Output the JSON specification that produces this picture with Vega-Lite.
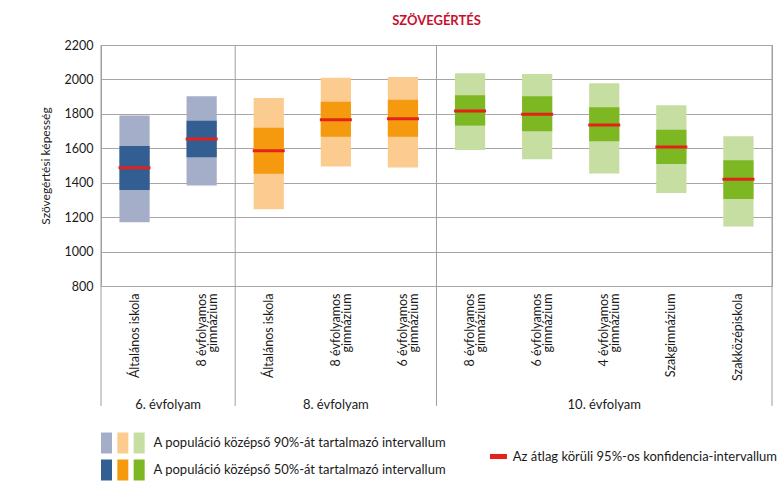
{
  "$schema": "https://vega.github.io/schema/vega-lite/v6.json",
  "background": "white",
  "padding": {"left": 38, "top": 14, "right": 5, "bottom": 0},
  "spacing": 8,
  "resolve": {"scale": {"color": "independent"}},
  "config": {
    "font": "Lato",
    "view": {"stroke": "#A0A0A0"},
    "text": {"color": "#1a1a1a"},
    "axisX": {
      "title": null, "labelAngle": -90, "labelAlign": "right", "labelBaseline": "middle",
      "ticks": false, "domain": false, "grid": false, "labelPadding": 7,
      "labelFontSize": 12.5, "labelLineHeight": 11, "labelColor": "#1a1a1a"
    },
    "axisY": {
      "tickCount": 8, "format": "d",
      "grid": true, "gridColor": "#A6A6A6", "domain": false, "ticks": false,
      "labelPadding": 8, "labelFontSize": 12.5, "labelColor": "#1a1a1a",
      "titleFontSize": 12, "titleFontWeight": "normal", "titleColor": "#1a1a1a", "titlePadding": 12
    }
  },
  "vconcat": [
    {
      "width": 671,
      "height": 241,
      "title": {"text": "SZÖVEGÉRTÉS", "color": "#C8102E", "fontSize": 13, "fontWeight": "bold", "anchor": "middle", "offset": 11},
      "data": {"values": [
        {"key": "6|Általános iskola", "grp": "6", "lo90": 1170, "lo50": 1358, "mean": 1487, "hi50": 1614, "hi90": 1790},
        {"key": "6|8 évfolyamos~gimnázium", "grp": "6", "lo90": 1384, "lo50": 1548, "mean": 1654, "hi50": 1760, "hi90": 1903},
        {"key": "8|Általános iskola", "grp": "8", "lo90": 1246, "lo50": 1452, "mean": 1586, "hi50": 1719, "hi90": 1892},
        {"key": "8|8 évfolyamos~gimnázium", "grp": "8", "lo90": 1494, "lo50": 1667, "mean": 1766, "hi50": 1870, "hi90": 2010},
        {"key": "8|6 évfolyamos~gimnázium", "grp": "8", "lo90": 1488, "lo50": 1667, "mean": 1771, "hi50": 1882, "hi90": 2014},
        {"key": "10|8 évfolyamos~gimnázium", "grp": "10", "lo90": 1590, "lo50": 1732, "mean": 1817, "hi50": 1908, "hi90": 2036},
        {"key": "10|6 évfolyamos~gimnázium", "grp": "10", "lo90": 1536, "lo50": 1699, "mean": 1797, "hi50": 1902, "hi90": 2032},
        {"key": "10|4 évfolyamos~gimnázium", "grp": "10", "lo90": 1453, "lo50": 1641, "mean": 1735, "hi50": 1838, "hi90": 1978},
        {"key": "10|Szakgimnázium", "grp": "10", "lo90": 1340, "lo50": 1509, "mean": 1608, "hi50": 1708, "hi90": 1850},
        {"key": "10|Szakközépiskola", "grp": "10", "lo90": 1145, "lo50": 1306, "mean": 1420, "hi50": 1530, "hi90": 1670}
      ]},
      "layer": [
        {
          "mark": {"type": "bar", "width": {"band": 0.45}},
          "encoding": {
            "x": {
              "field": "key", "type": "nominal", "title": null,
              "scale": {"domain": ["6|Általános iskola", "6|8 évfolyamos~gimnázium", "8|Általános iskola", "8|8 évfolyamos~gimnázium", "8|6 évfolyamos~gimnázium", "10|8 évfolyamos~gimnázium", "10|6 évfolyamos~gimnázium", "10|4 évfolyamos~gimnázium", "10|Szakgimnázium", "10|Szakközépiskola"], "paddingInner": 0, "paddingOuter": 0},
              "axis": {"labelExpr": "split(split(datum.value, '|')[1], '~')"}
            },
            "y": {
              "field": "lo90", "type": "quantitative",
              "title": "Szövegértési képesség",
              "scale": {"domain": [800, 2200], "nice": false, "zero": false}
            },
            "y2": {"field": "hi90"},
            "color": {"field": "grp", "type": "nominal", "scale": {"domain": ["6", "8", "10"], "range": ["#A5AEC9", "#FBCB8F", "#C6DEA2"]}, "legend": null}
          }
        },
        {
          "mark": {"type": "bar", "width": {"band": 0.45}},
          "encoding": {
            "x": {"field": "key", "type": "nominal", "title": null, "axis": {"labelExpr": "split(split(datum.value, '|')[1], '~')"}},
            "y": {"field": "lo50", "type": "quantitative", "title": "Szövegértési képesség"},
            "y2": {"field": "hi50"},
            "fill": {"field": "grp", "type": "nominal", "scale": {"domain": ["6", "8", "10"], "range": ["#335E91", "#F59A0E", "#7DB722"]}, "legend": null}
          }
        },
        {
          "mark": {"type": "tick", "color": "#E2231A", "size": 32, "thickness": 3, "opacity": 1},
          "encoding": {
            "x": {"field": "key", "type": "nominal", "title": null, "axis": {"labelExpr": "split(split(datum.value, '|')[1], '~')"}},
            "y": {"field": "mean", "type": "quantitative", "title": "Szövegértési képesség"}
          }
        },
        {
          "data": {"values": [{"key": "6|Általános iskola"}, {"key": "8|Általános iskola"}, {"key": "10|8 évfolyamos~gimnázium"}]},
          "mark": {"type": "rule", "color": "#A0A0A0", "strokeWidth": 1},
          "encoding": {
            "x": {"field": "key", "type": "nominal", "bandPosition": 0, "title": null, "axis": {"labelExpr": "split(split(datum.value, '|')[1], '~')"}},
            "y": {"datum": 2200, "type": "quantitative", "title": "Szövegértési képesség"},
            "y2": {"datum": 103}
          }
        },
        {
          "data": {"values": [{"key": "10|Szakközépiskola"}]},
          "mark": {"type": "rule", "color": "#A0A0A0", "strokeWidth": 1},
          "encoding": {
            "x": {"field": "key", "type": "nominal", "bandPosition": 1, "title": null, "axis": {"labelExpr": "split(split(datum.value, '|')[1], '~')"}},
            "y": {"datum": 2200, "type": "quantitative", "title": "Szövegértési képesség"},
            "y2": {"datum": 103}
          }
        },
        {
          "data": {"values": [{"key": "6|Általános iskola", "label": "6. évfolyam"}]},
          "mark": {"type": "text", "fontSize": 13, "baseline": "middle", "align": "center"},
          "encoding": {
            "x": {"field": "key", "type": "nominal", "bandPosition": 1, "title": null, "axis": {"labelExpr": "split(split(datum.value, '|')[1], '~')"}},
            "y": {"datum": 110, "type": "quantitative", "title": "Szövegértési képesség"},
            "text": {"field": "label"}
          }
        },
        {
          "data": {"values": [{"key": "8|8 évfolyamos~gimnázium", "label": "8. évfolyam"}, {"key": "10|4 évfolyamos~gimnázium", "label": "10. évfolyam"}]},
          "mark": {"type": "text", "fontSize": 13, "baseline": "middle", "align": "center"},
          "encoding": {
            "x": {"field": "key", "type": "nominal", "bandPosition": 0.5, "title": null, "axis": {"labelExpr": "split(split(datum.value, '|')[1], '~')"}},
            "y": {"datum": 110, "type": "quantitative", "title": "Szövegértési képesség"},
            "text": {"field": "label"}
          }
        }
      ]
    },
    {
      "width": 680,
      "height": 60,
      "view": {"stroke": null},
      "encoding": {
        "x": {"field": "slot", "type": "ordinal", "scale": {"type": "point", "padding": 0, "domain": [0, 1, 2, 3, 4, 5, 6, 7, 8, 9, 10, 11, 12, 13, 14, 15, 16, 17, 18, 19, 20, 21, 22, 23, 24, 25], "range": [5.5, 413.8]}, "axis": null},
        "y": {"field": "row", "type": "nominal", "scale": {"type": "point", "padding": 0, "domain": ["r90", "rm", "r50"], "range": [22, 49]}, "axis": null}
      },
      "layer": [
        {
          "data": {"values": [
            {"slot": 0, "row": "r90", "kind": "L6"}, {"slot": 1, "row": "r90", "kind": "L8"}, {"slot": 2, "row": "r90", "kind": "L10"},
            {"slot": 0, "row": "r50", "kind": "D6"}, {"slot": 1, "row": "r50", "kind": "D8"}, {"slot": 2, "row": "r50", "kind": "D10"}
          ]},
          "mark": {"type": "point", "filled": true, "opacity": 1, "shape": "M-0.524,-1H0.524V1H-0.524Z", "size": 441},
          "encoding": {
            "color": {"field": "kind", "type": "nominal", "scale": {"domain": ["L6", "L8", "L10", "D6", "D8", "D10"], "range": ["#A5AEC9", "#FBCB8F", "#C6DEA2", "#335E91", "#F59A0E", "#7DB722"]}, "legend": null}
          }
        },
        {
          "data": {"values": [{"slot": 24, "row": "rm"}]},
          "mark": {"type": "point", "filled": true, "opacity": 1, "color": "#E2231A", "shape": "M-1,-0.3H1V0.3H-1Z", "size": 289}
        },
        {
          "data": {"values": [
            {"slot": 3, "row": "r90", "label": "A populáció középső 90%-át tartalmazó intervallum"},
            {"slot": 3, "row": "r50", "label": "A populáció középső 50%-át tartalmazó intervallum"},
            {"slot": 25, "row": "rm", "label": "Az átlag körüli 95%-os konfidencia-intervallum"}
          ]},
          "mark": {"type": "text", "fontSize": 13, "align": "left", "baseline": "middle", "dx": -2},
          "encoding": {"text": {"field": "label"}}
        }
      ]
    }
  ]
}
